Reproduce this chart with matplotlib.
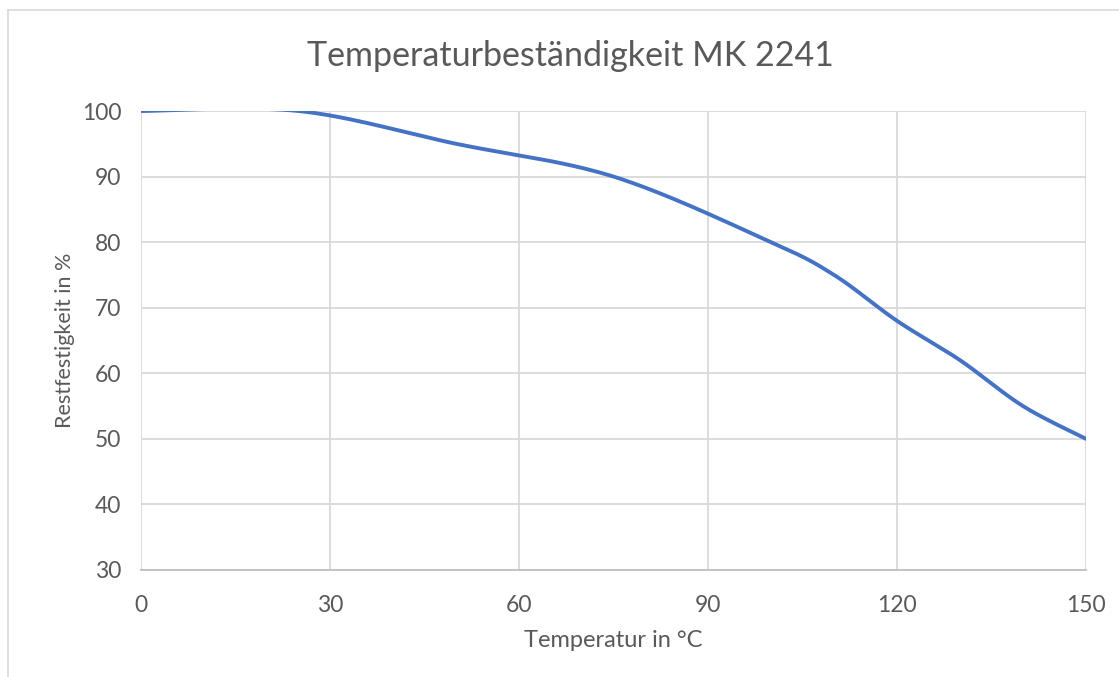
import numpy as np
import matplotlib
matplotlib.use("Agg")
import matplotlib.pyplot as plt
from matplotlib.lines import Line2D

# data
temperatur = [0, 25, 50, 75, 100, 110, 120, 130, 140, 150]
restfestigkeit = [100, 100, 95, 90, 80, 75, 68, 62, 55, 50]

x_ticks = [0, 30, 60, 90, 120, 150]
y_ticks = [30, 40, 50, 60, 70, 80, 90, 100]


def excel_smooth(xs, ys, n=40):
    # bezier smoothing similar to the office "smoothed line" option
    p = np.column_stack([xs, ys]).astype(float)
    ext = np.vstack([p[0], p, p[-1]])
    out = [p[0]]
    t = np.linspace(0, 1, n)[1:, None]
    for i in range(len(p) - 1):
        p0, p3 = p[i], p[i + 1]
        c1 = p0 + (ext[i + 2] - ext[i]) / 6
        c2 = p3 - (ext[i + 3] - ext[i + 1]) / 6
        seg = ((1 - t) ** 3) * p0 + 3 * t * (1 - t) ** 2 * c1 + 3 * t ** 2 * (1 - t) * c2 + t ** 3 * p3
        out.extend(seg)
    out = np.array(out)
    return out[:, 0], out[:, 1]


plt.rcParams['font.family'] = ['Lato', 'DejaVu Sans']
text_col = '#595959'

fig = plt.figure(figsize=(11.19, 6.77), dpi=100)
ax = fig.add_axes([141 / 1119, 1 - 570 / 677, (1086 - 141) / 1119, (570 - 111) / 677])

sx, sy = excel_smooth(temperatur, restfestigkeit)
ax.plot(sx, sy, color='#4472C4', linewidth=2.8, solid_capstyle='round', zorder=3)

ax.set_xlim(0, 150)
ax.set_ylim(30, 100)
ax.set_xticks(x_ticks)
ax.set_yticks(y_ticks)
ax.grid(True, color='#d9d9d9', linewidth=1.3)
ax.set_axisbelow(True)
ax.tick_params(length=0, labelsize=16.5, colors=text_col)
ax.tick_params(axis='x', pad=18)
ax.tick_params(axis='y', pad=14)

for s in ['top', 'right', 'left']:
    ax.spines[s].set_visible(False)
ax.spines['bottom'].set_color('#bfbfbf')
ax.spines['bottom'].set_linewidth(1.3)

ax.set_xlabel('Temperatur in °C', fontsize=17, color=text_col, labelpad=10)
ax.set_ylabel('Restfestigkeit in %', fontsize=15.5, color=text_col, labelpad=5)
fig.text(570 / 1119, 1 - 56 / 677, 'Temperaturbeständigkeit MK 2241',
         ha='center', va='center', fontsize=24.5, color=text_col)

# outer chart frame (only top and left visible in the crop)
fig.add_artist(Line2D([8 / 1119, 1], [1 - 10 / 677] * 2, transform=fig.transFigure,
                      color='#d9d9d9', linewidth=1.2))
fig.add_artist(Line2D([8 / 1119] * 2, [0, 1 - 10 / 677], transform=fig.transFigure,
                      color='#d9d9d9', linewidth=1.2))

fig.savefig('out.png', dpi=100)
